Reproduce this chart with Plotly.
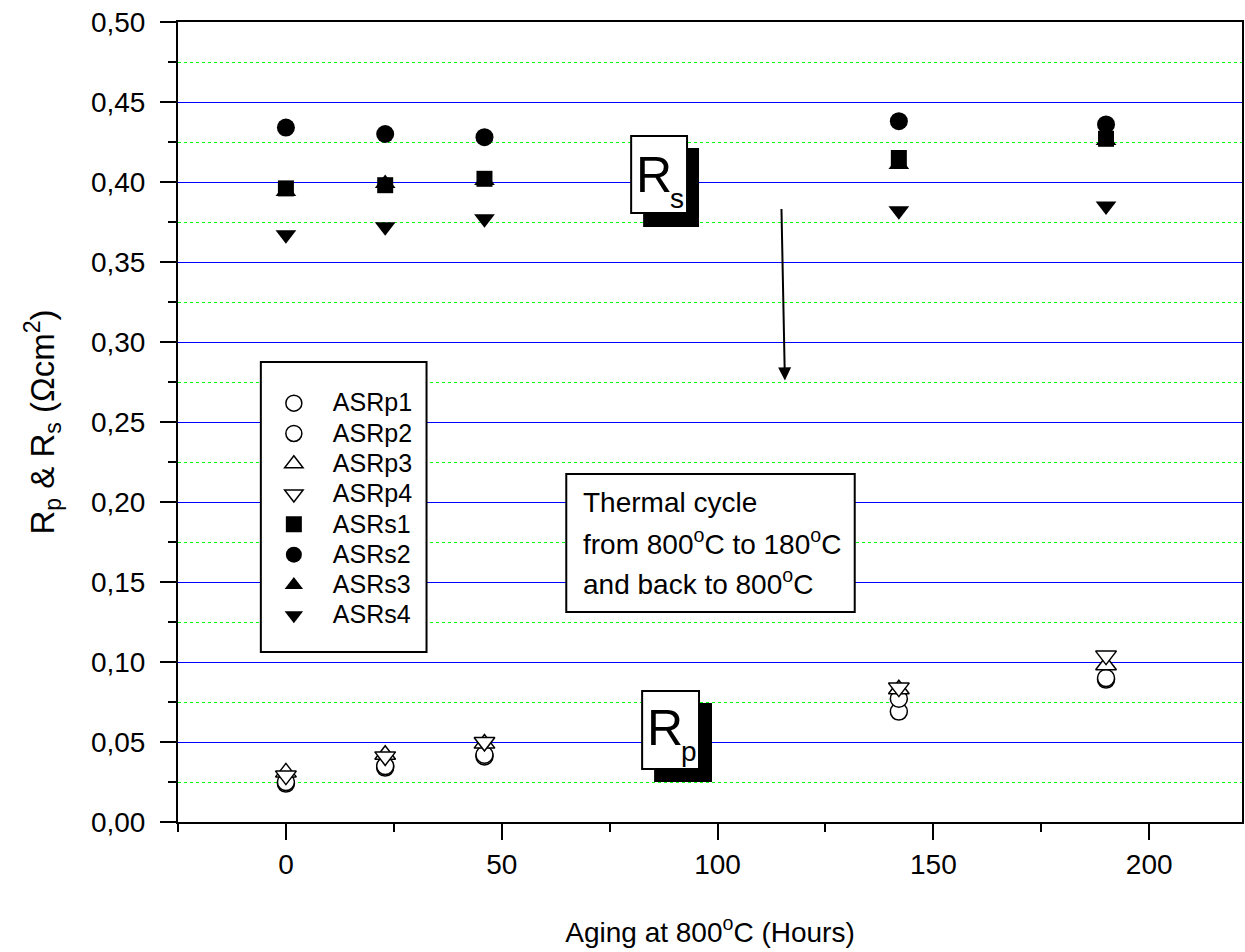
import plotly.graph_objects as go

hours = [0, 23, 46, 142, 190]

asrp1 = [0.024, 0.034, 0.041, 0.069, 0.089]
asrp2 = [0.025, 0.035, 0.042, 0.077, 0.090]
asrp3 = [0.031, 0.042, 0.049, 0.083, 0.098]
asrp4 = [0.029, 0.041, 0.050, 0.084, 0.104]
asrs1 = [0.396, 0.398, 0.402, 0.415, 0.427]
asrs2 = [0.434, 0.430, 0.428, 0.438, 0.436]
asrs3 = [0.394, 0.399, 0.401, 0.411, 0.426]
asrs4 = [0.367, 0.372, 0.377, 0.382, 0.385]

series_names = ["ASRp1", "ASRp2", "ASRp3", "ASRp4", "ASRs1", "ASRs2", "ASRs3", "ASRs4"]
series_values = [asrp1, asrp2, asrp3, asrp4, asrs1, asrs2, asrs3, asrs4]
symbols = ["circle", "circle", "triangle-up", "triangle-down",
           "square", "circle", "triangle-up", "triangle-down"]
filled = [False, False, False, False, True, True, True, True]
sizes = [17, 17, 18, 18, 16, 18, 18, 18]

FONT = "Liberation Sans, Arial, sans-serif"

fig = go.Figure()
for name, vals, sym, fill, sz in zip(series_names, series_values, symbols, filled, sizes):
    fig.add_trace(go.Scatter(
        x=hours, y=vals, mode="markers",
        name='<span style="font-size:25px">' + name + '</span>',
        marker=dict(symbol=sym, size=sz,
                    color="black" if fill else "white",
                    line=dict(color="black", width=0 if fill else 1.5)),
    ))

def px2paper(px, py):
    return (px - 178) / 1066.0, (822 - py) / 800.0

shapes = []
def rect(x0, y0, x1, y1, fill, line_w):
    a, b = px2paper(x0, y0)
    c, d = px2paper(x1, y1)
    shapes.append(dict(type="rect", xref="paper", yref="paper", x0=a, y0=b, x1=c, y1=d,
                       fillcolor=fill, line=dict(color="black", width=line_w), layer="above"))

# legend box
rect(261, 362, 427, 652, "white", 2)
# thermal cycle box
rect(567, 474, 856, 612, "white", 2)
# Rs box with shadow
rect(644, 148, 700, 227, "black", 0)
rect(632, 136, 688, 213, "white", 2)
# Rp box with shadow
rect(655, 703, 713, 782, "black", 0)
rect(643, 691, 700, 769, "white", 2)

annotations = []
def text(px, py, s, size, xanchor="center"):
    a, b = px2paper(px, py)
    annotations.append(dict(x=a, y=b, xref="paper", yref="paper", text=s, showarrow=False,
                            xanchor=xanchor, yanchor="middle",
                            font=dict(family=FONT, size=size, color="black")))

text(582, 502, "Thermal cycle", 28, "left")
text(582, 542, "from 800<sup>o</sup>C to 180<sup>o</sup>C", 28, "left")
text(582, 582, "and back to 800<sup>o</sup>C", 28, "left")
text(655, 175, "R", 50)
text(678, 199, "s", 28)
text(666, 728, "R", 50)
text(690, 751, "p", 28)

# arrow
annotations.append(dict(x=115.6, y=0.276, ax=114.8, ay=0.384, xref="x", yref="y",
                        axref="x", ayref="y", text="", showarrow=True,
                        arrowhead=2, arrowsize=1.3, arrowwidth=2, arrowcolor="black",
                        standoff=0, startstandoff=0))

fig.update_layout(
    width=1245, height=952,
    margin=dict(l=178, r=1, t=22, b=130),
    paper_bgcolor="white", plot_bgcolor="white",
    separators=", ",
    font=dict(family=FONT, color="black", size=28),
    showlegend=True,
    legend=dict(x=(255 - 178) / 1066.0, y=(822 - 383) / 800.0, xanchor="left", yanchor="top",
                bgcolor="rgba(0,0,0,0)", borderwidth=0,
                font=dict(family=FONT, size=21, color="black"),
                itemwidth=68),
    shapes=shapes,
    annotations=annotations,
)

fig.update_xaxes(
    range=[-25, 221.5], tick0=0, dtick=50, showgrid=False, zeroline=False,
    showline=True, linecolor="black", linewidth=2, mirror=True,
    ticks="outside", ticklen=16, tickwidth=2, tickcolor="black",
    tickfont=dict(family=FONT, size=28),
    minor=dict(dtick=25, tick0=0, ticks="outside", ticklen=8, tickwidth=2, tickcolor="black", showgrid=False),
    title=dict(text="Aging at 800<sup>o</sup>C (Hours)", font=dict(family=FONT, size=28), standoff=44),
)
fig.update_yaxes(
    range=[0, 0.5], tick0=0, dtick=0.05, tickformat=".2f", zeroline=False,
    showgrid=True, gridcolor="#0000ff", gridwidth=1,
    showline=True, linecolor="black", linewidth=2, mirror=True,
    ticks="outside", ticklen=16, tickwidth=2, tickcolor="black",
    ticklabelstandoff=9,
    tickfont=dict(family=FONT, size=28),
    minor=dict(dtick=0.025, tick0=0, ticks="outside", ticklen=8, tickwidth=2, tickcolor="black",
               showgrid=True, gridcolor="#00ff00", griddash="dot", gridwidth=1),
    title=dict(text="R<sub>p</sub> &amp; R<sub>s</sub> (Ωcm<sup>2</sup>)", font=dict(family=FONT, size=33), standoff=26),
)

fig.write_html("out.html")
